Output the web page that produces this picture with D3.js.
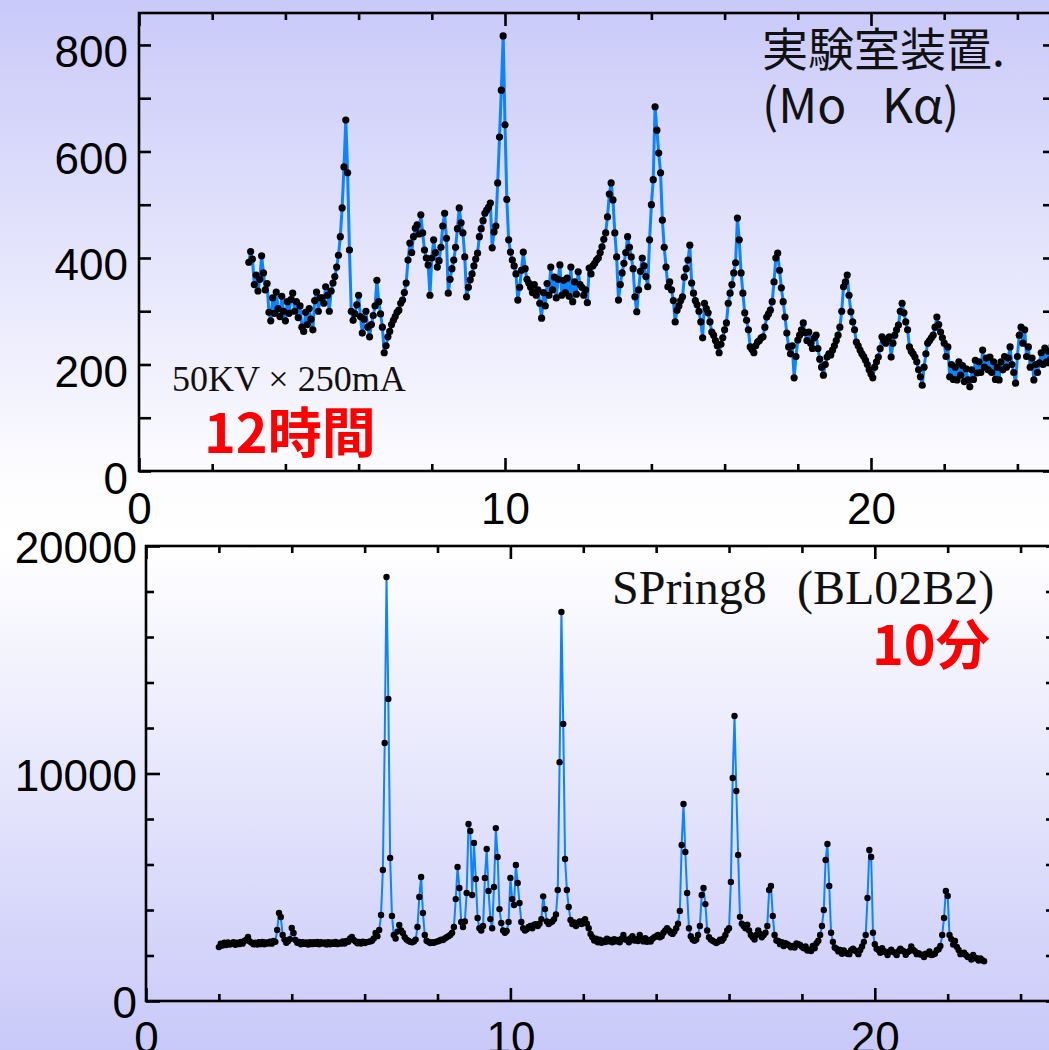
<!DOCTYPE html>
<html>
<head>
<meta charset="utf-8">
<script src="https://cdn.jsdelivr.net/npm/d3@7"></script>
<style>
  body { margin: 0; background: #fff; }
  svg { display: block; }
</style>
</head>
<body>
<svg id="chart" width="1049" height="1050"></svg>
<script>
// Lab instrument (Mo Ka), 2theta from 3.00 in 0.05 steps, one row per degree
const labStart = 3.0, labStep = 0.05;
const labCounts = [
  392,412,398,350,368,338,360,404,372,340,352,298,282,325,296,336,305,290,328,300,
  282,318,296,322,334,300,318,288,310,270,262,298,275,305,285,265,320,336,300,325,
  325,315,346,330,300,338,353,365,383,405,440,494,571,659,560,415,300,283,295,312,
  330,290,259,285,300,270,252,275,292,310,358,318,295,270,222,235,252,262,275,283,
  290,298,302,315,321,335,353,396,428,410,440,456,462,445,481,447,415,400,387,330,
  400,434,410,383,395,420,460,484,437,334,360,380,396,420,455,494,466,447,402,327,
  345,359,370,385,398,409,440,455,470,484,490,495,503,419,449,460,541,627,715,817,
  650,510,434,411,396,385,370,321,345,377,411,380,360,353,345,335,350,330,340,315,
  287,335,310,352,330,383,340,364,325,360,387,330,358,335,362,328,383,318,355,332,
  374,350,345,330,340,316,381,370,385,390,396,400,410,421,435,447,477,520,541,509,
  447,402,321,350,372,390,410,440,420,402,380,327,299,340,375,400,385,365,346,434,
  500,547,684,640,597,560,471,420,383,346,355,340,320,280,302,310,320,327,364,380,
  396,424,353,334,320,312,300,280,250,315,305,297,280,261,255,245,235,222,238,250,
  265,278,315,334,350,372,391,475,434,372,334,297,283,265,233,228,222,235,242,245,
  250,252,270,289,295,302,318,355,400,409,377,344,318,289,259,233,220,235,175,215,
  246,255,265,278,260,245,261,240,230,250,255,230,210,195,180,200,214,220,218,227,
  235,245,255,270,300,346,355,368,330,299,280,265,242,235,227,220,215,208,200,190,
  182,175,195,205,214,230,252,245,240,248,252,214,240,255,265,274,300,315,297,280,
  265,233,225,220,214,205,190,177,161,195,220,240,245,250,255,270,289,275,261,250,
  240,215,233,177,200,172,195,171,205,180,198,168,192,171,158,190,172,208,184,205,
  185,227,195,212,190,214,185,205,172,195,171,205,190,215,195,212,233,200,185,165,
  215,255,270,240,265,215,233,195,212,171,200,185,203,222,200,231,205,225,210,235,
  230
];

// SPring8 BL02B2, 2theta from 2.00 in 0.05 steps, one row per degree
const spStart = 2.0, spStep = 0.05;
const spCounts = [
  2370,2520,2440,2560,2460,2570,2480,2530,2590,2470,2560,2500,2600,2520,2640,2700,2810,2620,2560,2490,
  2560,2480,2580,2500,2600,2490,2570,2530,2610,2520,2640,2600,3120,3870,3690,2900,2700,2560,2640,2720,
  3210,2990,2680,2560,2600,2490,2590,2510,2570,2480,2590,2500,2580,2510,2600,2490,2580,2520,2570,2480,
  2590,2490,2570,2510,2600,2500,2560,2520,2620,2530,2640,2600,2750,2810,2680,2620,2540,2600,2530,2610,
  2550,2580,2600,2620,2650,2750,2990,2850,3120,3780,5760,11340,18640,13280,6290,3740,2900,2750,3050,3340,
  3100,2990,2800,2700,2650,2600,2580,2620,2700,3250,4570,5450,3870,2900,2650,2600,2550,2580,2560,2600,
  2620,2650,2700,2680,2750,2800,2850,2900,3000,3250,4480,5890,4970,3470,3250,3500,4750,7780,7470,4660,
  6950,5360,3650,3200,3100,3300,5410,6680,4840,3600,3200,5010,7600,6330,4040,3430,3100,3000,3080,3470,
  5410,4480,4220,5980,5190,4310,3470,3200,3100,3150,3250,3300,3200,3350,3380,3300,3400,3600,4600,4040,
  3500,3380,3450,3500,3600,3800,4880,10500,17100,12180,6240,4880,4130,3560,3380,3450,3300,3400,3500,3380,
  3520,3600,3400,3200,2950,2800,2660,2740,2580,2690,2560,2650,2590,2740,2620,2680,2580,2720,2620,2680,
  2580,2740,2900,2700,2690,2580,2760,2850,2660,2720,2640,2900,2720,2620,2760,2600,2680,2610,2740,2800,
  2850,2900,2800,2850,3000,3100,3200,3100,3000,2950,3050,3200,3400,3960,6860,8660,6550,4750,3200,2850,
  2700,2650,2700,2900,3300,4660,4970,4260,3100,2800,2700,2650,2600,2550,2600,2700,2650,2750,2900,3100,
  3200,5230,9800,12530,9230,6420,3700,3400,3300,3200,3350,3100,2900,2800,2700,2900,3100,2950,2800,2900,
  3000,3300,4880,5060,3740,2900,2660,2640,2500,2580,2420,2540,2500,2440,2360,2420,2350,2530,2500,2460,
  2380,2320,2400,2220,2260,2200,2420,2320,2540,2650,2900,3300,4000,6200,6900,5060,3000,2600,2350,2300,
  2180,2240,2080,2220,2120,2080,2060,2230,2300,2220,2180,2060,2240,2400,2600,2900,4530,6640,6330,3000,
  2500,2300,2240,2120,2320,2200,2140,2020,2180,2260,2160,2120,2020,2190,2300,2220,2180,2030,2140,2200,
  2400,2260,2190,2060,2100,2040,2030,1930,2080,2060,2180,2020,2040,2080,2230,2280,2420,2900,3650,4840,
  4620,2900,2720,2480,2640,2380,2240,2060,2100,2120,2020,1930,1940,1820,2020,1880,1880,1780,1870,1790,
  1750
];

const labYMajor = [0, 200, 400, 600, 800];
const labYMinor = [100, 300, 500, 700];
const spYMajor = [0, 10000, 20000];
const spYMinor = [2000, 4000, 6000, 8000, 12000, 14000, 16000, 18000];
const xMajor = [0, 10, 20];
const xMinor = [2, 4, 6, 8, 12, 14, 16, 18, 22, 24];

const W = 1049, H = 1050;
const svg = d3.select('#chart');

// page background: lavender -> white -> lavender
const grad = svg.append('defs').append('linearGradient')
  .attr('id', 'bg').attr('x1', 0).attr('y1', 0).attr('x2', 0).attr('y2', 1);
grad.append('stop').attr('offset', '0%').attr('stop-color', '#c9c9f9');
grad.append('stop').attr('offset', '46%').attr('stop-color', '#fdfdff');
grad.append('stop').attr('offset', '52%').attr('stop-color', '#ffffff');
grad.append('stop').attr('offset', '100%').attr('stop-color', '#c9c9f9');
svg.append('rect').attr('width', W).attr('height', H).attr('fill', 'url(#bg)');

const numFont = '"Liberation Sans", Arial, Helvetica, sans-serif';

function drawPanel(cfg) {
  const x = d3.scaleLinear().domain([0, 25]).range([cfg.left, cfg.right]);
  const y = d3.scaleLinear().domain([0, cfg.yMax]).range([cfg.bottom, cfg.top]);
  const g = svg.append('g');

  const pts = cfg.values.map((v, i) => ({ t: cfg.start + i * cfg.step, c: v }));

  g.append('path')
    .datum(pts)
    .attr('d', d3.line().x(d => x(d.t)).y(d => y(d.c)))
    .attr('fill', 'none')
    .attr('stroke', '#0a84ff')
    .attr('stroke-width', cfg.lineWidth)
    .attr('stroke-linejoin', 'round');

  g.selectAll('circle')
    .data(pts)
    .join('circle')
    .attr('cx', d => x(d.t))
    .attr('cy', d => y(d.c))
    .attr('r', cfg.dotR)
    .attr('fill', '#000');

  // frame
  g.append('rect')
    .attr('x', cfg.left).attr('y', cfg.top)
    .attr('width', cfg.right - cfg.left).attr('height', cfg.bottom - cfg.top)
    .attr('fill', 'none').attr('stroke', '#000').attr('stroke-width', 2.6);

  const clean = s => {
    s.select('.domain').remove();
    s.selectAll('line').attr('stroke', '#000').attr('stroke-width', 2.6);
    s.selectAll('text').attr('fill', '#000').style('font-family', numFont).style('font-size', '44px');
  };

  // left axis (ticks inward)
  g.append('g').attr('transform', `translate(${cfg.left},0)`)
    .call(d3.axisLeft(y).tickValues(cfg.yMinor).tickSizeInner(-cfg.yMinorLen).tickSizeOuter(0).tickFormat(''))
    .call(clean);
  g.append('g').attr('transform', `translate(${cfg.left},0)`)
    .call(d3.axisLeft(y).tickValues(cfg.yMajor).tickSizeInner(-cfg.yMajorLen).tickSizeOuter(0)
      .tickPadding(cfg.yPad).tickFormat(d3.format('d')))
    .call(clean)
    .call(s => s.selectAll('text').attr('dy', cfg.yDy));

  // right axis
  g.append('g').attr('transform', `translate(${cfg.right},0)`)
    .call(d3.axisRight(y).tickValues(cfg.yMinor.concat(cfg.yMajor)).tickSizeInner(-11).tickSizeOuter(0).tickFormat(''))
    .call(clean);

  // bottom axis
  g.append('g').attr('transform', `translate(0,${cfg.bottom})`)
    .call(d3.axisBottom(x).tickValues(xMinor).tickSizeInner(-7).tickSizeOuter(0).tickFormat(''))
    .call(clean);
  g.append('g').attr('transform', `translate(0,${cfg.bottom})`)
    .call(d3.axisBottom(x).tickValues(xMajor).tickSizeInner(-13).tickSizeOuter(0)
      .tickPadding(cfg.xPad).tickFormat(d3.format('d')))
    .call(clean);

  // top border ticks
  g.append('g').attr('transform', `translate(0,${cfg.top})`)
    .call(d3.axisTop(x).tickValues(xMinor).tickSizeInner(-7).tickSizeOuter(0).tickFormat(''))
    .call(clean);
  g.append('g').attr('transform', `translate(0,${cfg.top})`)
    .call(d3.axisTop(x).tickValues(xMajor).tickSizeInner(-13).tickSizeOuter(0).tickFormat(''))
    .call(clean);
}

drawPanel({
  values: labCounts, start: labStart, step: labStep,
  left: 139, right: 1054, top: 13, bottom: 471, yMax: 860,
  yMajor: labYMajor, yMinor: labYMinor, yMajorLen: 12, yMinorLen: 12,
  yPad: 11, yDy: '0.5em', xPad: 22,
  lineWidth: 3, dotR: 3.6
});

drawPanel({
  values: spCounts, start: spStart, step: spStep,
  left: 146, right: 1057, top: 546, bottom: 1001, yMax: 20000,
  yMajor: spYMajor, yMinor: spYMinor, yMajorLen: 14, yMinorLen: 8,
  yPad: 9, yDy: '0.38em', xPad: 21,
  lineWidth: 2, dotR: 3.2
});

// annotations
const jp = '"Noto Sans CJK JP", "Noto Sans", sans-serif';
const serif = '"Liberation Serif", "Times New Roman", serif';

svg.append('text').attr('x', 762).attr('y', 66)
  .style('font-family', jp).style('font-size', '46px').attr('fill', '#111')
  .text('実験室装置.');
const mo = svg.append('text').attr('y', 123)
  .style('font-family', jp).style('font-size', '48px').attr('fill', '#111');
mo.append('tspan').attr('x', 762).text('(Mo');
mo.append('tspan').attr('x', 882).text('Kα)');

svg.append('text').attr('x', 172).attr('y', 391)
  .style('font-family', serif).style('font-size', '36px').attr('fill', '#111')
  .text('50KV × 250mA');
svg.append('text').attr('x', 204).attr('y', 453)
  .style('font-family', jp).style('font-size', '54px').style('font-weight', 'bold').attr('fill', '#ff0000')
  .text('12時間');

const sp = svg.append('text').attr('y', 604)
  .style('font-family', serif).style('font-size', '48px').attr('fill', '#111');
sp.append('tspan').attr('x', 612).text('SPring8');
sp.append('tspan').attr('x', 797).text('(BL02B2)');
svg.append('text').attr('x', 872).attr('y', 665)
  .style('font-family', jp).style('font-size', '54px').style('font-weight', 'bold').attr('fill', '#ff0000')
  .text('10分');
</script>
</body>
</html>
